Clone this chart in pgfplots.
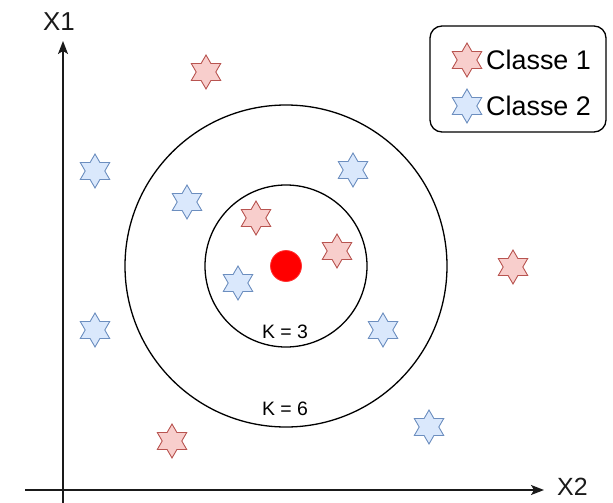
\documentclass[border=0pt]{standalone}
\usepackage{pgfplots}
\pgfplotsset{compat=1.18}
\usepackage{fontspec}
\setmainfont{Liberation Sans}
\usetikzlibrary{arrows.meta}
\definecolor{c1fill}{HTML}{F8CECC}
\definecolor{c1draw}{HTML}{B85450}
\definecolor{c2fill}{HTML}{DAE8FC}
\definecolor{c2draw}{HTML}{6C8EBF}
\definecolor{axcol}{HTML}{1A1A1A}
\pgfdeclareplotmark{hexstar}{%
  \pgfpathmoveto{\pgfpointpolar{90}{\pgfplotmarksize}}%
  \pgfpathlineto{\pgfpointpolar{120}{0.577*\pgfplotmarksize}}%
  \pgfpathlineto{\pgfpointpolar{150}{\pgfplotmarksize}}%
  \pgfpathlineto{\pgfpointpolar{180}{0.577*\pgfplotmarksize}}%
  \pgfpathlineto{\pgfpointpolar{210}{\pgfplotmarksize}}%
  \pgfpathlineto{\pgfpointpolar{240}{0.577*\pgfplotmarksize}}%
  \pgfpathlineto{\pgfpointpolar{270}{\pgfplotmarksize}}%
  \pgfpathlineto{\pgfpointpolar{300}{0.577*\pgfplotmarksize}}%
  \pgfpathlineto{\pgfpointpolar{330}{\pgfplotmarksize}}%
  \pgfpathlineto{\pgfpointpolar{0}{0.577*\pgfplotmarksize}}%
  \pgfpathlineto{\pgfpointpolar{30}{\pgfplotmarksize}}%
  \pgfpathlineto{\pgfpointpolar{60}{0.577*\pgfplotmarksize}}%
  \pgfpathclose
  \pgfusepathqfillstroke
}
\pgfplotstableread{
x y
206 72
256 218
337 251
513 267
172 441
}\classeone
\pgfplotstableread{
x y
95 171
187 202
353 170
238 283
95 330
383 330
429 427
}\classetwo
\begin{document}
\begin{tikzpicture}
\begin{axis}[
  name=ax,
  scale only axis, width=613bp, height=503bp,
  xmin=0, xmax=613, ymin=0, ymax=503, y dir=reverse,
  hide axis, clip=false,
]
% axes
\addplot[mark=none, line width=1.5bp, axcol, -{Stealth[length=13bp,width=10bp,inset=3bp]}] coordinates {(63,503) (63,41)};
\addplot[mark=none, line width=1.5bp, axcol, -{Stealth[length=13bp,width=10bp,inset=3bp]}] coordinates {(25,490) (544,490)};
\node[font=\fontsize{26}{30}\selectfont, text=axcol] at (axis cs:59,22) {X1};
\node[font=\fontsize{25}{28}\selectfont, text=axcol, anchor=west, inner sep=0pt] at (axis cs:557,487) {X2};
% circles
\draw[line width=1.3bp, black] (axis cs:286,266) circle[radius=81];
\draw[line width=1.3bp, black] (axis cs:286,266) circle[radius=161];
\node[font=\fontsize{19.5}{22}\selectfont] at (axis cs:285,332) {K = 3};
\node[font=\fontsize{19.5}{22}\selectfont] at (axis cs:285,409) {K = 6};
% data
\addplot[only marks, mark=hexstar, mark size=17bp, mark options={fill=c1fill, draw=c1draw, line width=0.9bp}] table[x=x,y=y] {\classeone};
\addplot[only marks, mark=hexstar, mark size=17bp, mark options={fill=c2fill, draw=c2draw, line width=0.9bp}] table[x=x,y=y] {\classetwo};
\addplot[only marks, mark=*, mark size=15.5bp, mark options={fill=red, draw=red!80!white, line width=0.8bp}] coordinates {(286,266)};
% legend
\draw[line width=1.3bp, black, rounded corners=12bp] (axis cs:430,26) rectangle (axis cs:606,132);
\addplot[only marks, mark=hexstar, mark size=17bp, mark options={fill=c1fill, draw=c1draw, line width=0.9bp}] coordinates {(467,60)};
\addplot[only marks, mark=hexstar, mark size=17bp, mark options={fill=c2fill, draw=c2draw, line width=0.9bp}] coordinates {(467,106)};
\node[font=\fontsize{27}{30}\selectfont, anchor=west, inner sep=0pt] at (axis cs:486,60) {Classe 1};
\node[font=\fontsize{27}{30}\selectfont, anchor=west, inner sep=0pt] at (axis cs:486,106) {Classe 2};
\end{axis}
\pgfresetboundingbox
\useasboundingbox (ax.south west) rectangle (ax.north east);
\end{tikzpicture}
\end{document}
